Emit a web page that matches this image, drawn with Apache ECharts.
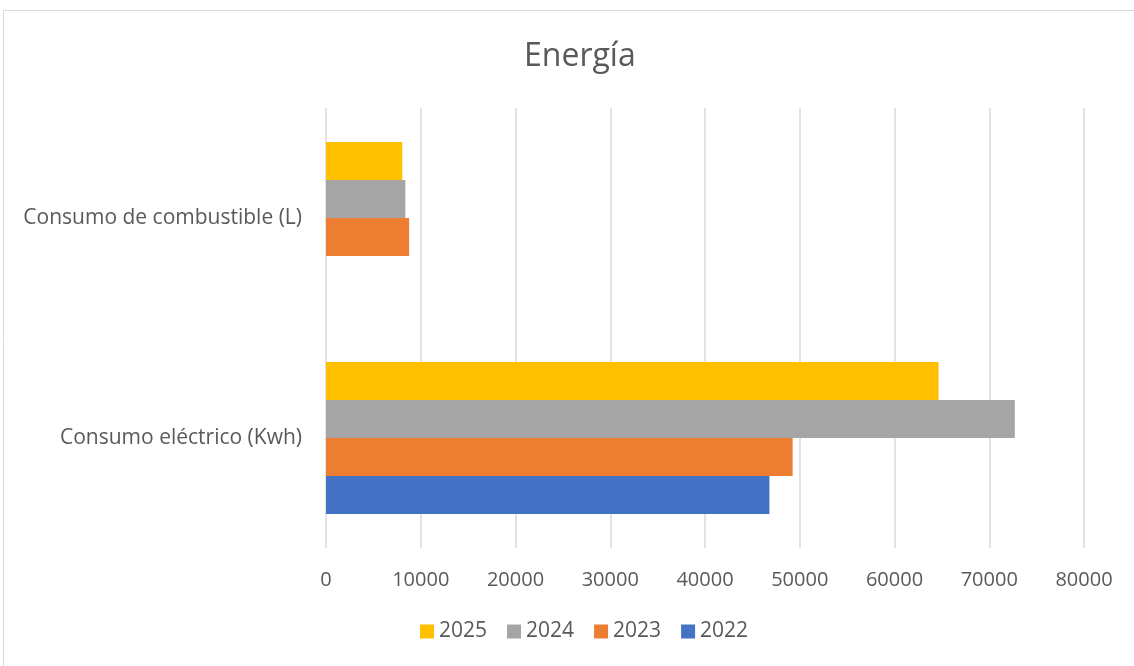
<!DOCTYPE html>
<html><head><meta charset="utf-8">
<script src="https://cdn.jsdelivr.net/npm/echarts@6/dist/echarts.min.js"></script>
<style>html,body{margin:0;padding:0;background:#fff}#c{width:1134px;height:666px}</style>
</head><body><div id="c"></div>
<script>
var categories = ['Consumo eléctrico (Kwh)', 'Consumo de combustible (L)'];
var s2022 = [46800, null];
var s2023 = [49250, 8770];
var s2024 = [72700, 8370];
var s2025 = [64650, 8050];
var legendOrder = ['2025', '2024', '2023', '2022'];
var FONT = '"Open Sans", sans-serif';
var chart = echarts.init(document.getElementById('c'));
function bar(name, data, color) {
  return {name: name, type: 'bar', data: data, itemStyle: {color: color}, barGap: '0%', barCategoryGap: '31%'};
}
chart.setOption({
  animation: false,
  title: {text: 'Energía', left: 519, top: 36, textStyle: {fontFamily: FONT, fontSize: 32, fontWeight: 'normal', color: '#595959'}},
  graphic: [{type: 'rect', shape: {x: 3.5, y: 10.5, width: 1140, height: 670}, style: {fill: 'none', stroke: '#d9d9d9', lineWidth: 1}, silent: true, z: -1}],
  legend: {data: legendOrder, bottom: 19, left: 415, itemWidth: 14, itemHeight: 14, itemGap: 20, icon: 'rect',
    textStyle: {fontFamily: FONT, fontSize: 21, color: '#595959'}},
  grid: {left: 326, right: 50, top: 108, bottom: 118},
  xAxis: {type: 'value', min: 0, max: 80000, interval: 10000,
    axisLine: {show: false}, axisTick: {show: false},
    splitLine: {lineStyle: {color: '#d9d9d9', width: 1.5}},
    axisLabel: {fontFamily: FONT, fontSize: 20, color: '#595959', margin: 22, formatter: function (v) { return String(v); }}},
  yAxis: {type: 'category', data: categories,
    axisLine: {show: false}, axisTick: {show: false},
    axisLabel: {fontFamily: FONT, fontSize: 21, color: '#595959', margin: 24}},
  series: [
    bar('2025', s2025, '#ffc000'),
    bar('2024', s2024, '#a5a5a5'),
    bar('2023', s2023, '#ed7d31'),
    bar('2022', s2022, '#4472c4')
  ]
});
</script></body></html>
